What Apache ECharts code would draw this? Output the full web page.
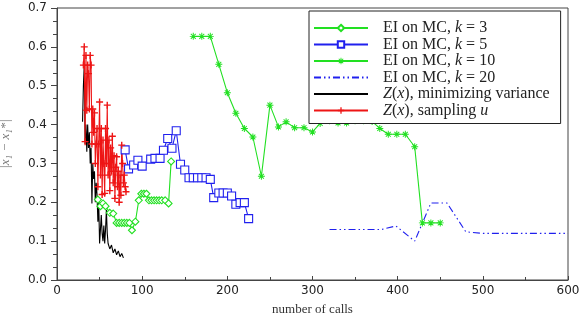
<!DOCTYPE html>
<html>
<head>
<meta charset="utf-8">
<script src="https://cdn.jsdelivr.net/npm/echarts@6/dist/echarts.min.js"></script>
<style>
  html, body { margin: 0; padding: 0; background: #fff; }
  #chart { width: 580px; height: 320px; }
</style>
</head>
<body>
<div id="chart"></div>
<script>
// [number of calls, |x1 - x1*|]
const eiK3 = [
  [48, 0.207], [51, 0.19], [54, 0.197], [57, 0.19], [62, 0.173], [66, 0.171],
  [70, 0.147], [73, 0.147], [76, 0.147], [79, 0.147], [82, 0.147], [85, 0.147],
  [88, 0.128], [92, 0.15], [96, 0.205], [99, 0.222], [102, 0.222], [105, 0.222],
  [108, 0.205], [111, 0.205], [114, 0.205], [117, 0.205], [120, 0.205], [123, 0.205],
  [127, 0.205], [131, 0.197], [134, 0.305]
];
const eiK5 = [
  [80, 0.335], [84, 0.286], [90, 0.296], [95, 0.308], [100, 0.293], [110, 0.311],
  [115, 0.313], [121, 0.313], [125, 0.334], [130, 0.364], [135, 0.339], [140, 0.384],
  [145, 0.298], [150, 0.283], [155, 0.263], [160, 0.263], [165, 0.263], [170, 0.263],
  [175, 0.263], [180, 0.259], [184, 0.212], [190, 0.224], [195, 0.224], [200, 0.224],
  [205, 0.216], [210, 0.195], [215, 0.199], [220, 0.199], [225, 0.158]
];
const eiK10 = [
  [160, 0.627], [170, 0.627], [180, 0.627], [190, 0.555], [200, 0.482], [210, 0.429],
  [220, 0.39], [230, 0.368], [240, 0.267], [250, 0.45], [260, 0.394], [269, 0.407],
  [279, 0.392], [290, 0.392], [300, 0.381], [309, 0.403], [320, 0.41], [330, 0.404],
  [340, 0.404], [350, 0.41], [360, 0.41], [370, 0.408], [379, 0.39], [389, 0.375],
  [399, 0.375], [409, 0.375], [420, 0.343], [429, 0.147], [439, 0.147], [450, 0.147]
];
const eiK20 = [
  [320, 0.13], [381, 0.13], [398, 0.139], [420, 0.1], [439, 0.198], [458, 0.198],
  [480, 0.124], [500, 0.12], [600, 0.12]
];
const zMinVar = [
  [30, 0.407], [31, 0.5], [32, 0.553], [33, 0.35], [34, 0.4], [35, 0.33], [36, 0.4],
  [37, 0.34], [38, 0.38], [39, 0.3], [40, 0.34], [41, 0.197], [42, 0.3], [43, 0.26],
  [44, 0.28], [45, 0.2], [46, 0.25], [47, 0.22], [48, 0.15], [49, 0.2], [50, 0.094],
  [51, 0.13], [52, 0.167], [53, 0.12], [54, 0.1], [55, 0.14], [56, 0.094], [57, 0.13],
  [58, 0.18], [59, 0.12], [60, 0.094], [62, 0.08], [64, 0.09], [66, 0.07], [68, 0.08],
  [70, 0.065], [72, 0.075], [74, 0.06], [76, 0.068], [78, 0.057]
];
const zSampling = [
  [31, 0.553], [32, 0.6], [33, 0.356], [34, 0.578], [35, 0.437], [36, 0.553], [37, 0.531],
  [38, 0.44], [39, 0.578], [40, 0.553], [41, 0.35], [42, 0.44], [43, 0.38], [44, 0.43],
  [45, 0.3], [46, 0.35], [47, 0.39], [48, 0.24], [49, 0.35], [50, 0.458], [51, 0.27],
  [52, 0.39], [53, 0.22], [54, 0.36], [55, 0.3], [56, 0.223], [57, 0.39], [58, 0.3],
  [59, 0.45], [60, 0.27], [61, 0.36], [62, 0.23], [63, 0.34], [64, 0.28], [65, 0.37],
  [66, 0.25], [67, 0.32], [68, 0.21], [69, 0.29], [70, 0.317], [71, 0.24], [72, 0.28],
  [73, 0.2], [74, 0.27], [75, 0.218], [76, 0.347], [77, 0.3], [78, 0.25], [79, 0.27],
  [80, 0.24], [81, 0.227]
];

const GREEN = "#22e022";
const BLUE = "#2020ee";
const RED = "#ee1515";
const SERIF = "'Liberation Serif', 'DejaVu Serif', serif";
const PLUS = "path://M4,0L6,0L6,4L10,4L10,6L6,6L6,10L4,10L4,6L0,6L0,4L4,4Z";
const ASTER = "path://M4.3,0L5.7,0L5.7,4.3L10,4.3L10,5.7L5.7,5.7L5.7,10L4.3,10L4.3,5.7L0,5.7L0,4.3L4.3,4.3Z" +
  "M1,2L2,1L5,4L8,1L9,2L6,5L9,8L8,9L5,6L2,9L1,8L4,5Z";

const legendLabels = {
  "EI on MC, k = 3": "{a|EI on MC, }{i|k}{a| = 3}",
  "EI on MC, k = 5": "{a|EI on MC, }{i|k}{a| = 5}",
  "EI on MC, k = 10": "{a|EI on MC, }{i|k}{a| = 10}",
  "EI on MC, k = 20": "{a|EI on MC, }{i|k}{a| = 20}",
  "Z(x), minimizing variance": "{i|Z}{a|(}{i|x}{a|), minimizing variance}",
  "Z(x), sampling u": "{i|Z}{a|(}{i|x}{a|), sampling }{i|u}",
};
const noMarker = ["EI on MC, k = 20", "Z(x), minimizing variance"];

const chart = echarts.init(document.getElementById("chart"), null, { renderer: "canvas" });

const line = (name, data, color, extra) => Object.assign({
  name,
  type: "line",
  data,
  animation: false,
  lineStyle: { color, width: 1.1 },
  itemStyle: { color: "#fff", borderColor: color, borderWidth: 1.1 },
  emphasis: { disabled: true },
}, extra);

chart.setOption({
  backgroundColor: "#fff",
  animation: false,
  grid: {
    left: 57, right: 12, top: 8, bottom: 40,
    outerBoundsMode: "none",
    show: true, borderColor: "#444", borderWidth: 1,
  },
  legend: {
    orient: "vertical",
    left: 309,
    top: 11,
    padding: [9, 11, 5, 4],
    itemWidth: 54,
    itemHeight: 8,
    itemGap: 0.5,
    backgroundColor: "#fff",
    borderColor: "#222",
    borderWidth: 1,
    borderRadius: 0,
    data: Object.keys(legendLabels).map((n) =>
      noMarker.includes(n) ? { name: n, itemStyle: { opacity: 0 } } : n),
    formatter: (n) => legendLabels[n],
    textStyle: {
      padding: [0, 0, 0, 10],
      rich: {
        a: { fontFamily: SERIF, fontSize: 16, lineHeight: 16, color: "#222" },
        i: { fontFamily: SERIF, fontSize: 16, lineHeight: 16, fontStyle: "italic", color: "#222" },
      },
    },
  },
  xAxis: {
    type: "value",
    min: 0,
    max: 600,
    interval: 100,
    name: "number of calls",
    nameLocation: "middle",
    nameGap: 23,
    nameTextStyle: { fontFamily: SERIF, fontSize: 13, color: "#333" },
    axisLine: { lineStyle: { color: "#444" } },
    axisTick: { inside: true, length: 4, lineStyle: { color: "#444" } },
    minorTick: { show: true, splitNumber: 2, length: 3, lineStyle: { color: "#444" } },
    axisLabel: { fontFamily: "'DejaVu Sans'", fontSize: 12, color: "#222", margin: 5 },
    splitLine: { show: false },
  },
  yAxis: {
    type: "value",
    min: 0,
    max: 0.7,
    interval: 0.1,
    name: "|x₁ − x₁*|",
    nameLocation: "middle",
    nameGap: 45,
    nameRotate: 90,
    nameTextStyle: { fontFamily: SERIF, fontSize: 13, fontStyle: "italic", color: "#777" },
    axisLine: { show: true, lineStyle: { color: "#444" } },
    axisTick: { show: true, length: 6, lineStyle: { color: "#444" } },
    minorTick: { show: true, splitNumber: 3, length: 4, lineStyle: { color: "#444" } },
    axisLabel: { fontFamily: "'DejaVu Sans'", fontSize: 12, color: "#222", margin: 10, formatter: (v) => v.toFixed(1) },
    splitLine: { show: false },
  },
  series: [
    line("EI on MC, k = 3", eiK3, GREEN, { symbol: "diamond", symbolSize: 7 }),
    line("EI on MC, k = 5", eiK5, BLUE, { symbol: "rect", symbolSize: 8 }),
    line("EI on MC, k = 10", eiK10, GREEN, {
      symbol: ASTER, symbolSize: 7,
      itemStyle: { color: GREEN, borderColor: GREEN, borderWidth: 0 },
    }),
    line("EI on MC, k = 20", eiK20, BLUE, {
      symbol: "none",
      lineStyle: { color: BLUE, width: 1.1, type: [7, 3, 1.5, 3, 1.5, 3] },
      itemStyle: { color: BLUE },
    }),
    line("Z(x), minimizing variance", zMinVar, "#000", {
      symbol: "none",
      itemStyle: { color: "#000" },
    }),
    line("Z(x), sampling u", zSampling, RED, {
      symbol: PLUS, symbolSize: 7,
      itemStyle: { color: RED, borderWidth: 0 },
    }),
  ],
});
</script>
</body>
</html>
